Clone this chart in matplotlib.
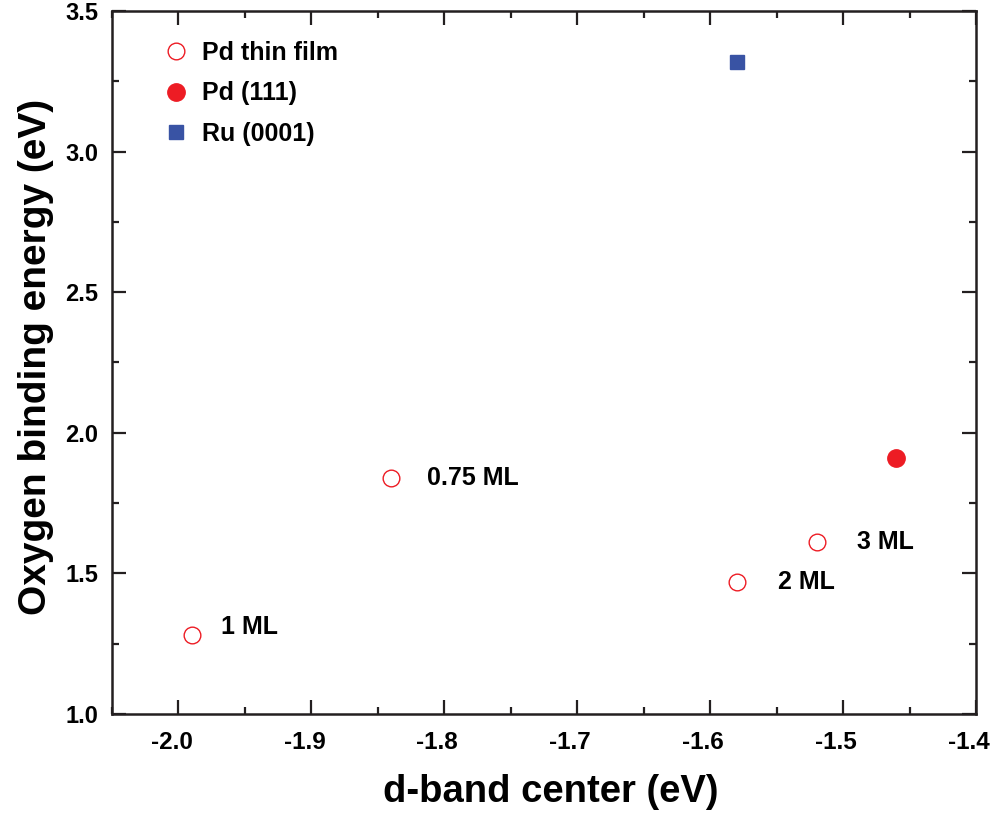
import matplotlib
matplotlib.use("Agg")
import matplotlib.pyplot as plt
from matplotlib.ticker import MultipleLocator, FormatStrFormatter
from matplotlib.transforms import ScaledTranslation

plt.rcParams['font.family'] = ['Liberation Sans', 'DejaVu Sans']
plt.rcParams['font.weight'] = 'bold'
plt.rcParams['axes.unicode_minus'] = False

# Pd thin films of various thickness
film_labels = ["1 ML", "0.75 ML", "2 ML", "3 ML"]
film_dband = [-1.99, -1.84, -1.58, -1.52]
film_energy = [1.28, 1.84, 1.47, 1.61]

# Bulk references
pd111_dband = [-1.46]
pd111_energy = [1.91]
ru_dband = [-1.58]
ru_energy = [3.32]

label_offsets = [(21, 6), (26, 0), (30, 0), (29, 0)]  # points

red = "#ED1C24"
blue = "#3953A4"
ink = "#231F20"

fig = plt.figure(figsize=(9.92, 8.13), dpi=100)
ax = fig.add_axes([0.1129, 0.1218, 0.8710, 0.8647])

ax.plot(film_dband, film_energy, linestyle="none", marker="o", markersize=12,
        markerfacecolor="white", markeredgecolor=red, markeredgewidth=1.0,
        label="Pd thin film")
ax.plot(pd111_dband, pd111_energy, linestyle="none", marker="o", markersize=12.5,
        markerfacecolor=red, markeredgecolor=red, label="Pd (111)")
ax.plot(ru_dband, ru_energy, linestyle="none", marker="s", markersize=10.5,
        markerfacecolor=blue, markeredgecolor=blue, label="Ru (0001)")

for lab, x, y, off in zip(film_labels, film_dband, film_energy, label_offsets):
    ax.annotate(lab, (x, y), xytext=off, textcoords="offset points",
                ha="left", va="center", fontsize=18, fontweight="bold")

ax.set_xlim(-2.05, -1.4)
ax.set_ylim(1.0, 3.5)
ax.xaxis.set_major_locator(MultipleLocator(0.1))
ax.xaxis.set_minor_locator(MultipleLocator(0.05))
ax.yaxis.set_major_locator(MultipleLocator(0.5))
ax.yaxis.set_minor_locator(MultipleLocator(0.25))
ax.xaxis.set_major_formatter(FormatStrFormatter("%.1f"))
ax.yaxis.set_major_formatter(FormatStrFormatter("%.1f"))

ax.tick_params(which="both", direction="in", top=True, right=True,
               color=ink, width=1.6)
ax.tick_params(which="major", length=10)
ax.tick_params(which="minor", length=5)
ax.tick_params(axis="x", which="major", pad=12, labelsize=17.5)
ax.tick_params(axis="y", which="major", pad=10, labelsize=17)

# x tick labels sit slightly left of their ticks
shift = ScaledTranslation(-7 / 100, 0, fig.dpi_scale_trans)
for lbl in ax.get_xticklabels():
    lbl.set_fontweight("bold")
    lbl.set_transform(lbl.get_transform() + shift)
for lbl in ax.get_yticklabels():
    lbl.set_fontweight("bold")

for s in ax.spines.values():
    s.set_linewidth(1.8)
    s.set_color(ink)

ax.set_xlabel("d-band center (eV)", fontsize=27.5, fontweight="bold", labelpad=15)
ax.set_ylabel("Oxygen binding energy (eV)", fontsize=28, fontweight="bold", labelpad=8)
ax.xaxis.label.set_x(0.508)
ax.yaxis.label.set_y(0.508)

leg = ax.legend(loc="upper left", bbox_to_anchor=(0.048, 0.972), frameon=False,
                prop={"size": 18, "weight": "bold"}, handletextpad=0.55,
                labelspacing=0.67, handlelength=1.0, borderaxespad=0)

fig.savefig("out.png", dpi=100)
